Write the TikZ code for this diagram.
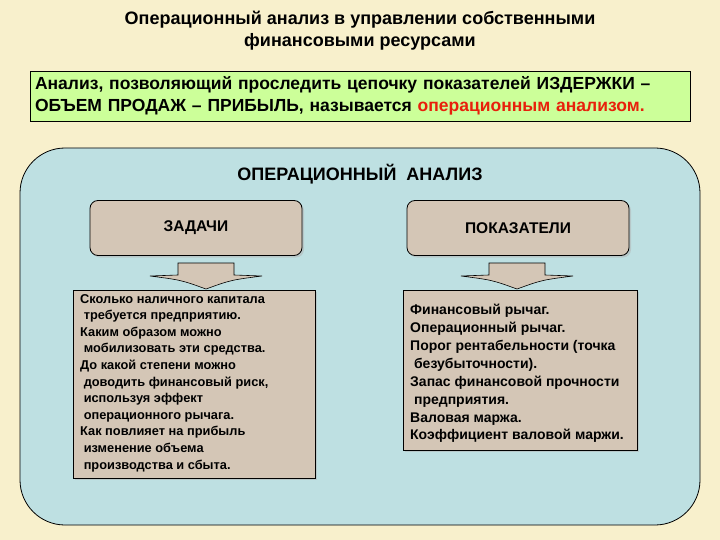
\documentclass[tikz,border=0pt]{standalone}
\usepackage{fontspec}
\setmainfont{Liberation Sans}
\usetikzlibrary{shadows}
\definecolor{bgc}{HTML}{F8F0CC}
\definecolor{panel}{HTML}{BEE0E2}
\definecolor{tan}{HTML}{D4C6B6}
\definecolor{grn}{HTML}{CCFF99}
\definecolor{redt}{HTML}{E8200C}
\begin{document}
\begin{tikzpicture}[x=1pt,y=-1pt,
  tanbox/.style={draw=black,fill=tan,rounded corners=8pt,line width=0.8pt,drop shadow={shadow xshift=2pt,shadow yshift=-2pt,fill=gray!60}},
  listbox/.style={draw=black,fill=tan,line width=0.8pt,drop shadow={shadow xshift=2pt,shadow yshift=-2pt,fill=gray!60}},
  barrow/.style={fill=tan,draw=black,line width=0.6pt}]
\useasboundingbox (0,0) rectangle (720,540);
\fill[bgc] (0,0) rectangle (720,540);
\node[font=\bfseries\fontsize{18}{22}\selectfont,align=center] (title) at (360,31) {Операционный анализ в управлении собственными\\финансовыми ресурсами};
\node[draw=black,fill=grn,line width=0.8pt,minimum width=660pt,minimum height=50pt,text width=650pt,align=left,font=\bfseries\fontsize{17.5}{22}\selectfont] (intro) at (360,96) {Анализ, позволяющий проследить цепочку показателей ИЗДЕРЖКИ – ОБЪЕМ ПРОДАЖ – ПРИБЫЛЬ, называется \textcolor{redt}{операционным анализом.}};
\draw[fill=panel,draw=black,line width=0.8pt,rounded corners=45pt] (20,148) rectangle (700,525);
\node[font=\bfseries\fontsize{18}{20}\selectfont] (main) at (360,174) {ОПЕРАЦИОННЫЙ\ \ АНАЛИЗ};
\node[tanbox,minimum width=212pt,minimum height=55pt,font=\bfseries\fontsize{15.5}{18}\selectfont] (zad) at (196,228) {ЗАДАЧИ};
\node[tanbox,minimum width=222pt,minimum height=55pt,font=\bfseries\fontsize{15.5}{18}\selectfont] (pok) at (518,228) {ПОКАЗАТЕЛИ};
\foreach \cx/\nm in {206/a1,517/a2}{
  \draw[barrow] (\cx-28,263) -- (\cx+28,263) -- (\cx+28,275) -- (\cx+56,276) .. controls (\cx+25,280) .. (\cx,289) .. controls (\cx-25,280) .. (\cx-56,276) -- (\cx-28,275) -- cycle;
  \coordinate (\nm) at (\cx,289);
}
\node[listbox,anchor=north west,minimum width=242pt,minimum height=188pt,inner sep=0pt] (lz) at (73,290) {};
\node[anchor=north west,align=left,font=\bfseries\fontsize{12.8}{16.6}\selectfont,inner sep=0pt] (lzt) at (80,294) {Сколько наличного капитала\\\ требуется предприятию.\\Каким образом можно\\\ мобилизовать эти средства.\\До какой степени можно\\\ доводить финансовый риск,\\\ используя эффект\\\ операционного рычага.\\Как повлияет на прибыль\\\ изменение объема\\\ производства и сбыта.};
\node[listbox,anchor=north west,minimum width=234pt,minimum height=160pt,inner sep=0pt] (lp) at (403,290) {};
\node[anchor=north west,align=left,font=\bfseries\fontsize{14}{17.9}\selectfont,inner sep=0pt] (lpt) at (410,304) {Финансовый рычаг.\\Операционный рычаг.\\Порог рентабельности (точка\\\ безубыточности).\\Запас финансовой прочности\\\ предприятия.\\Валовая маржа.\\Коэффициент валовой маржи.};
\end{tikzpicture}
\end{document}
